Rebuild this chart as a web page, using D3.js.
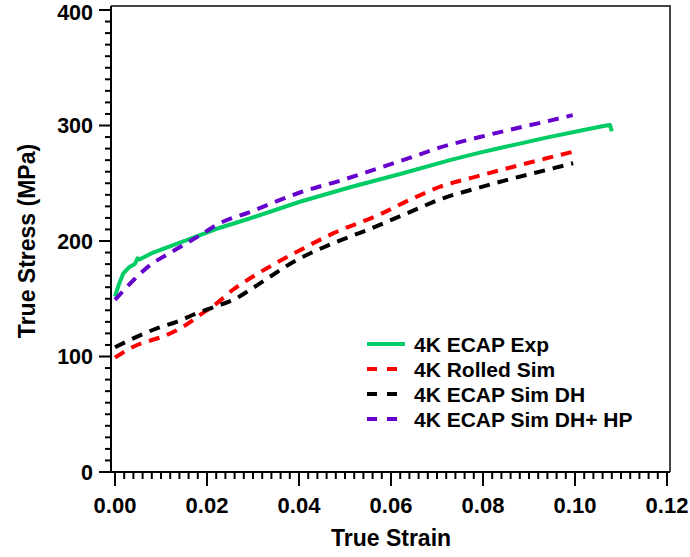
<!DOCTYPE html>
<html>
<head>
<meta charset="utf-8">
<script src="https://cdn.jsdelivr.net/npm/d3@7"></script>
<style>
  html, body { margin: 0; padding: 0; background: #fff; }
  svg { display: block; font-family: "Liberation Sans", Arial, sans-serif; font-weight: bold; }
</style>
</head>
<body>
<svg id="chart" width="690" height="557"></svg>
<script>
// Tensile curves: true strain vs true stress (MPa)
const expStrain    = [0, 0.0008, 0.0018, 0.003, 0.0043, 0.0049, 0.0053, 0.0083, 0.0141, 0.0185, 0.0228, 0.0293, 0.0402, 0.0511, 0.062, 0.0728, 0.0793, 0.0837, 0.0938, 0.1011, 0.1062, 0.1076, 0.108];
const expStress    = [151.8, 162, 172, 177, 180, 185, 184, 190, 198.5, 205, 211.5, 219.5, 234, 246.5, 258, 270, 276.5, 280.5, 289.5, 295.5, 299.5, 300.5, 295];

const rolledStrain = [0, 0.004, 0.0112, 0.0149, 0.0185, 0.0221, 0.0257, 0.0293, 0.0402, 0.0474, 0.0573, 0.0648, 0.0707, 0.0787, 0.0866, 0.0938, 0.0996];
const rolledStress = [99, 108.5, 118.6, 126, 136, 146, 158, 167.5, 192, 206.6, 222.5, 237, 247, 256, 264.3, 271.6, 277.3];

const dhStrain     = [0, 0.0047, 0.0091, 0.0134, 0.0178, 0.0217, 0.0264, 0.0293, 0.0402, 0.0474, 0.0548, 0.0635, 0.0713, 0.0787, 0.0866, 0.0938, 0.0996];
const dhStress     = [108, 117, 124.4, 130, 137.4, 143, 150.4, 157.6, 185, 198, 209.5, 224, 237, 245.7, 254.3, 261.5, 267.3];

const dhhpStrain   = [0, 0.004, 0.0076, 0.0112, 0.0149, 0.0185, 0.0221, 0.0293, 0.0402, 0.0496, 0.0573, 0.0648, 0.0707, 0.0793, 0.0866, 0.0938, 0.0995];
const dhhpStress   = [149, 166, 179, 188, 196.5, 205, 214, 225, 242, 253, 263, 273, 281, 290, 297, 303.5, 309];

const seriesNames  = ["4K ECAP Exp", "4K Rolled Sim", "4K ECAP Sim DH", "4K ECAP Sim DH+ HP"];
const xTicks       = [0, 0.02, 0.04, 0.06, 0.08, 0.10, 0.12];
const yTicks       = [0, 100, 200, 300, 400];

const series = [
  { name: seriesNames[0], xs: expStrain,    ys: expStress,    color: "#00cc66", dashed: false },
  { name: seriesNames[1], xs: rolledStrain, ys: rolledStress, color: "#ff0000", dashed: true },
  { name: seriesNames[2], xs: dhStrain,     ys: dhStress,     color: "#000000", dashed: true },
  { name: seriesNames[3], xs: dhhpStrain,   ys: dhhpStress,   color: "#6600cc", dashed: true }
];

const svg = d3.select("#chart");
const box = { left: 111, right: 670, top: 6, bottom: 472 };

const x = d3.scaleLinear().domain([0, 0.12]).range([115, 667]);
const y = d3.scaleLinear().domain([0, 400]).range([472, 10]);

// frame: top and right borders
svg.append("path")
  .attr("d", `M${box.left},${box.top}H${box.right}V${box.bottom}`)
  .attr("fill", "none").attr("stroke", "#444").attr("stroke-width", 2);

// y axis
const yMinor = d3.range(0, 401, 10);
const yAxisG = svg.append("g");
yAxisG.append("line").attr("x1", box.left).attr("x2", box.left)
  .attr("y1", box.top).attr("y2", box.bottom).attr("stroke", "#000").attr("stroke-width", 2);
yAxisG.selectAll("line.minor").data(yMinor).join("line").attr("class", "minor")
  .attr("x1", d => d % 100 === 0 ? box.left - 12 : box.left - 6).attr("x2", box.left)
  .attr("y1", d => y(d)).attr("y2", d => y(d))
  .attr("stroke", "#000").attr("stroke-width", 2);
yAxisG.selectAll("text").data(yTicks).join("text")
  .attr("x", 93).attr("y", d => Math.max(y(d), 12)).attr("dy", "0.36em")
  .attr("text-anchor", "end").attr("font-size", 21.5).text(d => d);

// x axis
const xMinor = d3.range(0, 61).map(i => i * 0.002);
const xAxisG = svg.append("g");
xAxisG.append("line").attr("x1", box.left).attr("x2", box.right)
  .attr("y1", box.bottom).attr("y2", box.bottom).attr("stroke", "#000").attr("stroke-width", 2);
xAxisG.selectAll("line.minor").data(xMinor).join("line").attr("class", "minor")
  .attr("x1", d => x(d)).attr("x2", d => x(d))
  .attr("y1", box.bottom)
  .attr("y2", (d, i) => i % 10 === 0 ? box.bottom + 14 : box.bottom + 7)
  .attr("stroke", "#000").attr("stroke-width", 2);
xAxisG.selectAll("text").data(xTicks).join("text")
  .attr("x", d => x(d)).attr("y", 513)
  .attr("text-anchor", "middle").attr("font-size", 22).text(d => d.toFixed(2));

// axis titles
svg.append("text").attr("x", 391).attr("y", 546).attr("text-anchor", "middle")
  .attr("font-size", 23).text("True Strain");
svg.append("text").attr("transform", "translate(35,241) rotate(-90)")
  .attr("text-anchor", "middle").attr("font-size", 23).text("True Stress (MPa)");

// curves
const line = d3.line().x(d => x(d[0])).y(d => y(d[1]));
series.forEach(s => {
  const pts = s.xs.map((v, i) => [v, s.ys[i]]);
  svg.append("path")
    .attr("d", line.curve(s.dashed ? d3.curveMonotoneX : d3.curveLinear)(pts))
    .attr("fill", "none").attr("stroke", s.color).attr("stroke-width", 4)
    .attr("stroke-dasharray", s.dashed ? "11,8" : null)
    .attr("stroke-linejoin", "round");
});

// legend
const legend = svg.append("g");
series.forEach((s, i) => {
  const cy = 344 + i * 25;
  legend.append("line").attr("x1", 367).attr("x2", s.dashed ? 397 : 405)
    .attr("y1", cy).attr("y2", cy)
    .attr("stroke", s.color).attr("stroke-width", 4)
    .attr("stroke-dasharray", s.dashed ? "10,10" : null);
  legend.append("text").attr("x", 414).attr("y", cy).attr("dy", "0.36em")
    .attr("font-size", 21).text(s.name);
});
</script>
</body>
</html>
